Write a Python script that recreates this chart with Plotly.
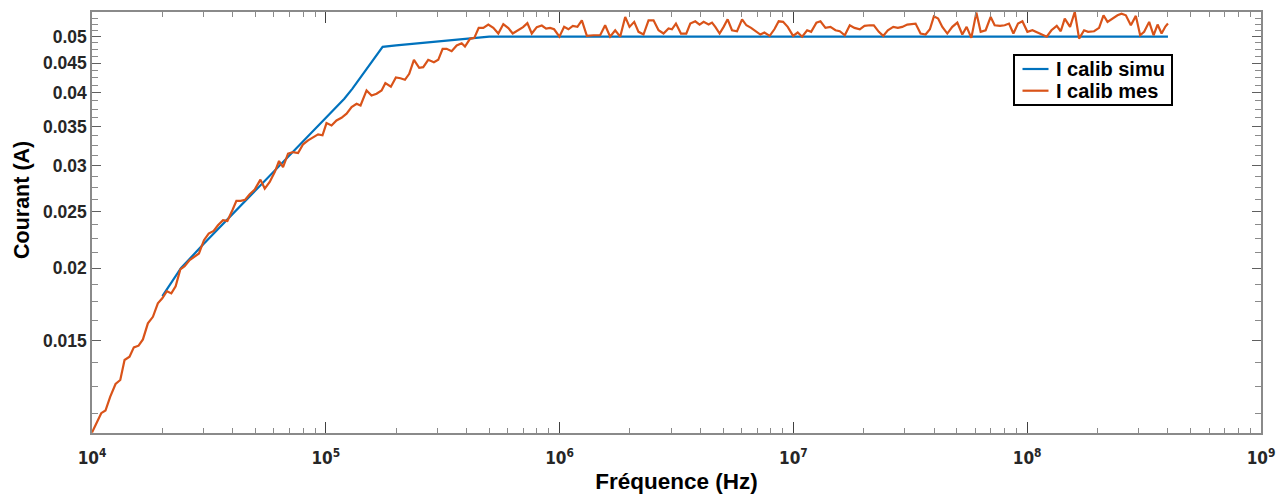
import math
import plotly.graph_objects as go

# ---------------- data ----------------
sim_freq = [2.0e4, 2.4e4, 3.0e4, 4.0e4, 5.0e4, 6.0e4, 7.0e4, 8.0e4, 1.0e5, 1.1e5, 1.2e5,
            1.3e5, 1.4e5, 1.5e5, 1.6e5, 1.75e5, 2.0e5, 3.0e5, 4.0e5, 5.0e5, 1.0e6, 1.0e7, 1.0e8, 4.0e8]
sim_current = [0.0179, 0.0200, 0.0220, 0.0248, 0.0272, 0.0293, 0.0313, 0.0331, 0.0362, 0.0377, 0.0391,
               0.0407, 0.0424, 0.0441, 0.0458, 0.0480, 0.0483, 0.0490, 0.0496, 0.0500, 0.0500, 0.0500,
               0.0500, 0.0500]

meas_freq = [
    1.0e4, 1.095e4, 1.142e4, 1.197e4, 1.261e4, 1.321e4, 1.378e4, 1.447e4, 1.510e4, 1.582e4,
    1.651e4, 1.734e4, 1.822e4, 1.913e4, 1.998e4, 2.091e4, 2.184e4, 2.279e4, 2.386e4, 2.490e4,
    2.616e4, 2.748e4, 2.867e4, 3.012e4, 3.155e4, 3.314e4, 3.457e4, 3.633e4, 3.793e4, 3.985e4,
    4.146e4,
    4.325e4, 4.521e4, 4.726e4, 4.966e4, 5.253e4, 5.481e4, 5.757e4, 6.048e4, 6.310e4, 6.563e4,
    6.895e4, 7.244e4, 7.610e4, 7.995e4, 8.400e4, 8.824e4, 9.268e4, 9.681e4, 1.007e5, 1.058e5,
    1.111e5, 1.167e5, 1.227e5, 1.289e5, 1.354e5, 1.408e5, 1.494e5, 1.569e5, 1.649e5, 1.732e5,
    1.798e5, 1.898e5, 1.994e5, 2.085e5, 2.180e5, 2.274e5, 2.382e5, 2.509e5, 2.610e5, 2.742e5,
    2.901e5, 3.027e5, 3.160e5, 3.287e5, 3.454e5, 3.629e5, 3.813e5, 3.938e5, 4.137e5, 4.317e5,
    4.508e5, 4.717e5, 4.955e5,
    5.206e5, 5.469e5, 5.745e5, 6.036e5, 6.304e5, 6.662e5, 6.978e5, 7.280e5, 7.603e5, 7.988e5,
    8.392e5, 8.755e5, 9.107e5, 9.474e5, 9.982e5, 1.0455e6, 1.0907e6, 1.139e6, 1.192e6, 1.245e6,
    1.308e6, 1.396e6, 1.491e6, 1.566e6, 1.645e6, 1.729e6, 1.816e6, 1.908e6, 1.991e6, 2.085e6,
    2.176e6, 2.285e6, 2.401e6, 2.522e6, 2.650e6, 2.783e6, 2.924e6, 3.023e6, 3.145e6, 3.304e6,
    3.482e6, 3.622e6, 3.805e6, 3.970e6, 4.130e6, 4.338e6, 4.487e6, 4.634e6, 4.835e6,
    5.030e6, 5.232e6, 5.463e6, 5.739e6, 6.031e6, 6.293e6, 6.591e6, 6.877e6, 7.224e6, 7.515e6,
    7.916e6, 8.293e6, 8.652e6, 9.035e6, 9.454e6, 9.970e6, 1.0433e7, 1.0897e7, 1.1449e7, 1.1909e7,
    1.2547e7, 1.3053e7, 1.3712e7, 1.4405e7, 1.5133e7, 1.5789e7, 1.6586e7, 1.7424e7, 1.8253e7, 1.9231e7,
    2.0142e7, 2.1222e7, 2.2080e7, 2.3195e7, 2.4223e7, 2.5345e7, 2.6730e7, 2.7970e7, 2.9213e7, 3.0690e7,
    3.2241e7, 3.3306e7, 3.4990e7, 3.6760e7, 3.8350e7,
    3.990e7, 4.159e7, 4.335e7, 4.553e7, 4.783e7, 5.025e7, 5.278e7, 5.507e7, 5.768e7, 6.060e7,
    6.323e7, 6.642e7, 6.978e7, 7.259e7, 7.649e7, 8.011e7, 8.358e7, 8.730e7, 9.135e7, 9.539e7,
    1.0021e8, 1.0527e8, 1.1059e8, 1.1619e8, 1.2123e8, 1.2697e8, 1.3378e8, 1.3916e8, 1.4474e8, 1.5252e8,
    1.5978e8, 1.6670e8, 1.7512e8, 1.8215e8, 1.9324e8, 2.0300e8, 2.1202e8, 2.2055e8, 2.3169e8, 2.4340e8,
    2.5322e8, 2.6418e8, 2.7753e8, 2.9156e8, 3.0419e8, 3.1637e8, 3.3237e8, 3.4714e8, 3.6109e8, 3.7567e8,
    3.8994e8, 4.0e8,
]
meas_current = [
    0.01044, 0.01127, 0.01139, 0.01203, 0.01265, 0.01285, 0.01391, 0.01409, 0.01462, 0.01472,
    0.01509, 0.01608, 0.01650, 0.01740, 0.01775, 0.01826, 0.01810, 0.01862, 0.01990, 0.02016,
    0.02065, 0.02097, 0.02120, 0.02234, 0.02294, 0.02317, 0.02370, 0.02418, 0.02411, 0.02515,
    0.02610,
    0.02611, 0.02622, 0.02679, 0.02730, 0.02839, 0.02740, 0.02812, 0.02925, 0.03056, 0.02984,
    0.03146, 0.03166, 0.03154, 0.03265, 0.03317, 0.03360, 0.03396, 0.03383, 0.03551, 0.03518,
    0.03588, 0.03626, 0.03685, 0.03782, 0.03833, 0.03807, 0.04040, 0.03960, 0.03987, 0.04040,
    0.04158, 0.04100, 0.04253, 0.04239, 0.04214, 0.04315, 0.04560, 0.04418, 0.04429, 0.04560,
    0.04518, 0.04560, 0.04763, 0.04763, 0.04718, 0.04826, 0.04870, 0.04807, 0.04955, 0.04974,
    0.05175, 0.05175, 0.05243,
    0.05175, 0.05060, 0.05253, 0.05171, 0.05060, 0.05126, 0.05191, 0.05274, 0.05060, 0.05191,
    0.05222, 0.05161, 0.05175, 0.05146, 0.04997, 0.05195, 0.05146, 0.05216, 0.05195, 0.05332,
    0.05014, 0.05026, 0.05026, 0.05228, 0.04997, 0.05126, 0.04997, 0.05404, 0.05195, 0.05299,
    0.05094, 0.05040, 0.05332, 0.05332, 0.05126, 0.05060, 0.05161, 0.05146, 0.05263, 0.05060,
    0.05060, 0.05263, 0.05311, 0.05243, 0.05299, 0.05243, 0.05284, 0.05195, 0.05060,
    0.05195, 0.05353, 0.05126, 0.05106, 0.05353, 0.05228, 0.05175, 0.05106, 0.05040, 0.05080,
    0.05014, 0.05146, 0.05311, 0.05299, 0.05195, 0.05014, 0.05080, 0.04997, 0.05126, 0.05094,
    0.05284, 0.05311, 0.05175, 0.05195, 0.05126, 0.05106, 0.05026, 0.05228, 0.05175, 0.05146,
    0.05216, 0.05228, 0.05228, 0.05094, 0.05014, 0.05126, 0.05195, 0.05175, 0.05195, 0.05243,
    0.05263, 0.05263, 0.05060, 0.05040, 0.05146,
    0.05415, 0.05368, 0.05195, 0.05060, 0.05195, 0.05284, 0.05040, 0.05195, 0.04974, 0.05497,
    0.05094, 0.05126, 0.05404, 0.05228, 0.05216, 0.05228, 0.05263, 0.05060, 0.05263, 0.05311,
    0.05094, 0.05126, 0.05080, 0.05040, 0.04997, 0.05126, 0.05216, 0.05106, 0.05368, 0.05195,
    0.05512, 0.04960, 0.05126, 0.05094, 0.05106, 0.05175, 0.05439, 0.05299, 0.05368, 0.05439,
    0.05475, 0.05439, 0.05228, 0.05426, 0.05026, 0.05094, 0.05299, 0.05026, 0.05243, 0.05060,
    0.05201, 0.05263,
]

series_names = ["I calib simu", "I calib mes"]

x_tick_vals = [1e4, 1e5, 1e6, 1e7, 1e8, 1e9]
x_tick_text = ["10<sup>4</sup>", "10<sup>5</sup>", "10<sup>6</sup>",
               "10<sup>7</sup>", "10<sup>8</sup>", "10<sup>9</sup>"]
y_tick_vals = [0.015, 0.02, 0.025, 0.03, 0.035, 0.04, 0.045, 0.05]
y_tick_text = ["0.015", "0.02", "0.025", "0.03", "0.035", "0.04", "0.045", "0.05"]

y_range = [0.01042, 0.0551]
x_range = [1e4, 1e9]

# ---------------- figure ----------------
BLUE = "#0072BD"
ORANGE = "#D95319"
AXIS = "#8a8a8a"
TXT = "#262626"
FONT = "Liberation Sans, Arial, sans-serif"
XTICKFONT = "DejaVu Sans Condensed, Liberation Sans Narrow, Liberation Sans, sans-serif"

fig = go.Figure()
fig.add_trace(go.Scatter(x=sim_freq, y=sim_current, mode="lines", name=series_names[0],
                         line=dict(color=BLUE, width=2.2), showlegend=False))
fig.add_trace(go.Scatter(x=meas_freq, y=meas_current, mode="lines", name=series_names[1],
                         line=dict(color=ORANGE, width=2.2), showlegend=False))

x_minor = [m * 10 ** d for d in range(4, 9) for m in range(2, 10)]
y_minor = [round(0.01125 + 0.00125 * k, 5) for k in range(0, 36)]
y_minor = [v for v in y_minor if v <= 0.0551 and round(v / 0.005, 6) % 1 != 0]

fig.update_xaxes(
    type="log", range=[math.log10(x_range[0]), math.log10(x_range[1])],
    tickmode="array", tickvals=x_tick_vals, ticktext=x_tick_text,
    ticks="inside", ticklen=11, tickwidth=1, tickcolor="#404040",
    showline=True, linecolor=AXIS, linewidth=1.5, mirror="ticks",
    showgrid=False, zeroline=False, ticklabelstandoff=9, automargin=False,
    tickfont=dict(family=XTICKFONT, size=17, color=TXT, weight="bold"),
    minor=dict(ticks="inside", ticklen=5, tickwidth=1, tickcolor=AXIS,
               tickmode="array", tickvals=x_minor, showgrid=False),
    title=dict(text="Fréquence (Hz)", font=dict(family=FONT, size=22.5, color="#000000", weight="bold"),
               standoff=6),
)
fig.update_yaxes(
    type="log", range=[math.log10(y_range[0]), math.log10(y_range[1])],
    tickmode="array", tickvals=y_tick_vals, ticktext=y_tick_text,
    ticks="inside", ticklen=9, tickwidth=1, tickcolor="#606060",
    showline=True, linecolor=AXIS, linewidth=1.5, mirror="ticks",
    showgrid=False, zeroline=False, automargin=False,
    tickfont=dict(family=FONT, size=17.5, color=TXT, weight="bold"),
    minor=dict(ticks="inside", ticklen=6, tickwidth=1, tickcolor=AXIS,
               tickmode="array", tickvals=y_minor, showgrid=False),
)

# plot-area geometry (pixels) used to place the hand-drawn legend box & y title
L, R, T, B, W, H = 92, 20, 12, 64, 1281, 497
PW, PH = W - L - R, H - T - B
def px(xp):
    return (xp - L) / PW
def py(yp):
    return (H - B - yp) / PH

annotations = [
    dict(text="Courant (A)", textangle=-90, xref="paper", yref="paper",
         x=px(22), y=py(200), xanchor="center", yanchor="middle", showarrow=False,
         font=dict(family=FONT, size=21.5, color="#000000", weight="bold")),
]
shapes = [
    dict(type="rect", xref="paper", yref="paper", x0=px(1014), x1=px(1172), y0=py(105), y1=py(55),
         line=dict(color="#000000", width=2), fillcolor="white", layer="above"),
]
for i, (name, col) in enumerate(zip(series_names, [BLUE, ORANGE])):
    yc = 69 + i * 21.7
    shapes.append(dict(type="line", xref="paper", yref="paper", x0=px(1022.5), x1=px(1048.5),
                       y0=py(yc), y1=py(yc), line=dict(color=col, width=2.2), layer="above"))
    annotations.append(dict(text=name, xref="paper", yref="paper", x=px(1054), y=py(yc),
                            xanchor="left", yanchor="middle", showarrow=False,
                            font=dict(family=FONT, size=20, color="#000000", weight="bold")))

fig.update_layout(
    width=W, height=H,
    margin=dict(l=L, r=R, t=T, b=B, autoexpand=False),
    paper_bgcolor="white", plot_bgcolor="white",
    showlegend=False,
    shapes=shapes, annotations=annotations,
)

fig.write_html("out.html", config={"displayModeBar": False},
               post_script="document.body.style.margin='0';document.body.style.overflow='hidden';")
